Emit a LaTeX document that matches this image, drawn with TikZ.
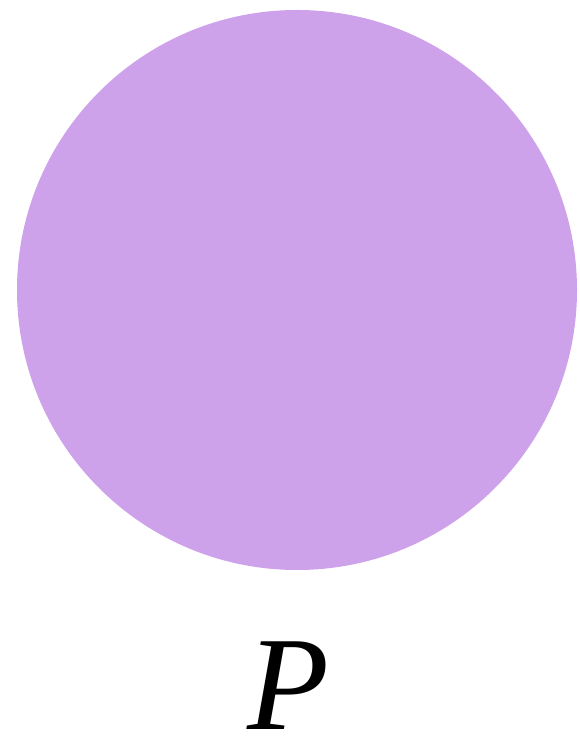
\documentclass[tikz,border=0pt]{standalone}
\usepackage{fontspec}
\setmainfont{Liberation Serif}
\definecolor{lilac}{RGB}{206,162,235}
\begin{document}
\begin{tikzpicture}[x=1pt,y=1pt,
  ball/.style={fill=lilac,draw=none},
  lbl/.style={font=\fontsize{134}{134}\selectfont\itshape,inner sep=0pt,anchor=base}]
\useasboundingbox (0,0) rectangle (579,738);
\fill[ball] (297,448) circle (280);
\node[lbl] (p) at (288,9) {P};
\end{tikzpicture}
\end{document}
